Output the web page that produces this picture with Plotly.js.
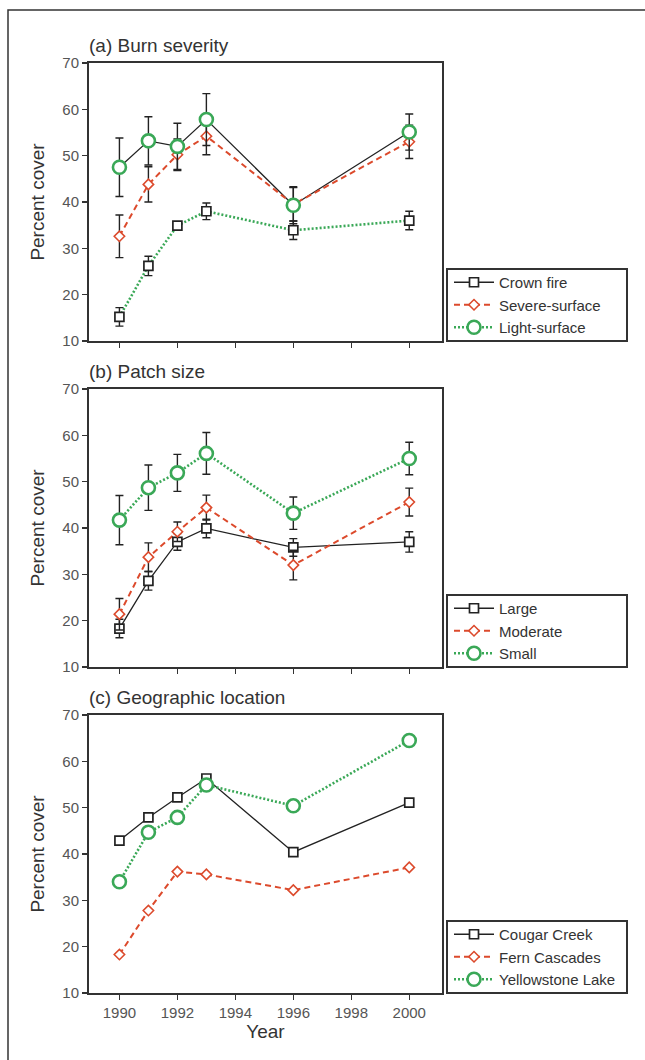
<!DOCTYPE html>
<html>
<head>
<meta charset="utf-8">
<script src="https://cdn.plot.ly/plotly-3.0.1.min.js"></script>
<style>
  html, body { margin: 0; padding: 0; background: #fff; }
  #chart { width: 645px; height: 1060px; }
</style>
</head>
<body>
<div id="chart"></div>
<script>
// ---------------- data ----------------
const years = [1990, 1991, 1992, 1993, 1996, 2000];

// (a) Burn severity
const crownFire      = [15.2, 26.2, 34.9, 38.0, 33.9, 36.0];
const crownFireErr   = [2.0, 2.1, 0.8, 1.8, 2.0, 2.0];
const severeSurface  = [32.6, 43.8, 50.2, 54.2, 39.5, 53.0];
const severeSurfErr  = [4.6, 3.8, 3.4, 4.0, 3.6, 3.6];
const lightSurface   = [47.5, 53.2, 52.0, 57.8, 39.3, 55.1];
const lightSurfErr   = [6.3, 5.2, 5.0, 5.6, 4.0, 3.9];

// (b) Patch size
const large          = [18.3, 28.6, 37.0, 39.9, 35.8, 37.0];
const largeErr       = [2.0, 2.0, 1.8, 2.0, 1.9, 2.2];
const moderate       = [21.4, 33.7, 39.2, 44.4, 32.0, 45.6];
const moderateErr    = [3.4, 3.1, 2.1, 2.7, 3.2, 3.0];
const small          = [41.7, 48.7, 51.9, 56.1, 43.2, 55.0];
const smallErr       = [5.3, 4.9, 4.0, 4.5, 3.5, 3.5];

// (c) Geographic location
const cougarCreek    = [42.9, 47.9, 52.2, 56.3, 40.4, 51.1];
const fernCascades   = [18.3, 27.8, 36.2, 35.6, 32.2, 37.1];
const yellowstone    = [34.0, 44.7, 47.9, 54.9, 50.4, 64.5];

const panelTitles = ['(a) Burn severity', '(b) Patch size', '(c) Geographic location'];
const legendNames = [
  ['Crown fire', 'Severe-surface', 'Light-surface'],
  ['Large', 'Moderate', 'Small'],
  ['Cougar Creek', 'Fern Cascades', 'Yellowstone Lake']
];

// ---------------- styles ----------------
const FONT = '"Liberation Sans", Arial, Helvetica, sans-serif';
const BLACK = '#222222', RED = '#dc4a2c', GREEN = '#3aa857';
const W = 645, H = 1060;
const styles = [
  { line: { color: BLACK, width: 1.3, dash: 'solid' },
    marker: { symbol: 'square', size: 9, color: '#fff', line: { width: 1.7, color: BLACK } } },
  { line: { color: RED, width: 2, dash: '6px,4px' },
    marker: { symbol: 'diamond', size: 8, color: '#fff', line: { width: 1.6, color: RED } } },
  { line: { color: GREEN, width: 2.6, dash: '2px,2px' },
    marker: { symbol: 'circle', size: 13, color: '#fff', line: { width: 2.6, color: GREEN } } }
];

// panel pixel boxes
const plotL = 89, plotR = 442;
const panels = [ { top: 63, bot: 341 }, { top: 389, bot: 667 }, { top: 715, bot: 993 } ];

// series per panel: marker data, error, line data (in panel (a) the source
// figure draws the solid line through the circles and the dotted line through the squares)
const panelSeries = [
  [ { y: crownFire, err: crownFireErr, lineY: lightSurface },
    { y: severeSurface, err: severeSurfErr, lineY: severeSurface },
    { y: lightSurface, err: lightSurfErr, lineY: crownFire } ],
  [ { y: large, err: largeErr, lineY: large },
    { y: moderate, err: moderateErr, lineY: moderate },
    { y: small, err: smallErr, lineY: small } ],
  [ { y: cougarCreek, err: null, lineY: cougarCreek },
    { y: fernCascades, err: null, lineY: fernCascades },
    { y: yellowstone, err: null, lineY: yellowstone } ]
];

const traces = [];
const layout = {
  width: W, height: H,
  margin: { l: 0, r: 0, t: 0, b: 0 },
  paper_bgcolor: '#fff', plot_bgcolor: '#fff',
  font: { family: FONT, color: '#333' },
  showlegend: true,
  annotations: [],
  shapes: []
};

panelSeries.forEach((series, p) => {
  const sfx = p === 0 ? '' : String(p + 1);
  const xa = 'x' + sfx, ya = 'y' + sfx;
  const leg = 'legend' + sfx;
  // lines
  series.forEach((s, i) => {
    traces.push({ type: 'scatter', mode: 'lines', x: years, y: s.lineY,
      xaxis: xa, yaxis: ya, line: styles[i].line, showlegend: false, hoverinfo: 'skip' });
  });
  // markers with error bars
  series.forEach((s, i) => {
    const t = { type: 'scatter', mode: 'markers', x: years, y: s.y,
      xaxis: xa, yaxis: ya, marker: styles[i].marker, showlegend: false };
    if (s.err) t.error_y = { type: 'data', array: s.err, visible: true, color: BLACK, thickness: 1.4, width: 4 };
    traces.push(t);
  });
  // legend entries
  series.forEach((s, i) => {
    traces.push({ type: 'scatter', mode: 'lines+markers', x: [null], y: [null],
      xaxis: xa, yaxis: ya, name: legendNames[p][i], legend: leg,
      line: styles[i].line, marker: styles[i].marker });
  });

  const dom = [1 - panels[p].bot / H, 1 - panels[p].top / H];
  layout['xaxis' + sfx] = {
    domain: [plotL / W, plotR / W], anchor: ya,
    range: [1988.95, 2001.13], tick0: 1990, dtick: 2,
    showline: true, mirror: true, linecolor: '#333', linewidth: 2,
    ticks: 'outside', ticklen: 5, tickwidth: 1.5, tickcolor: '#333',
    showgrid: false, zeroline: false,
    showticklabels: p === 2,
    tickfont: { family: FONT, size: 15, color: '#555' },
    title: p === 2 ? { text: 'Year', font: { family: FONT, size: 19, color: '#333' }, standoff: 4 } : undefined
  };
  layout['yaxis' + sfx] = {
    domain: dom, anchor: xa,
    range: [10, 70], dtick: 10,
    showline: true, mirror: true, linecolor: '#333', linewidth: 2,
    ticks: 'outside', ticklen: 5, tickwidth: 1.5, tickcolor: '#333',
    showgrid: false, zeroline: false,
    tickfont: { family: FONT, size: 15, color: '#555' },
    title: { text: 'Percent cover', font: { family: FONT, size: 19, color: '#333' }, standoff: 13 }
  };
  layout[leg] = {
    x: 449 / W, xanchor: 'left',
    y: 1 - (panels[p].bot - 75) / H, yanchor: 'top',
    bgcolor: 'rgba(0,0,0,0)', borderwidth: 0,
    font: { family: FONT, size: 15, color: '#333' },
    itemwidth: 40, tracegroupgap: 0
  };
  layout.shapes.push({ type: 'rect', xref: 'paper', yref: 'paper',
    x0: 447 / W, x1: 627 / W, y0: 1 - panels[p].bot / H, y1: 1 - (panels[p].bot - 72) / H,
    line: { color: '#333', width: 2 }, fillcolor: 'rgba(0,0,0,0)' });
  layout.annotations.push({ text: panelTitles[p], xref: 'paper', yref: 'paper',
    x: (plotL - 2) / W, xanchor: 'left', y: 1 - (panels[p].top - 18) / H, yanchor: 'middle',
    showarrow: false, font: { family: FONT, size: 19, color: '#333' } });
});

// outer frame
layout.shapes.push({ type: 'rect', xref: 'paper', yref: 'paper',
  x0: 8 / W, x1: 1.05, y0: -0.05, y1: 1 - 10 / H,
  line: { color: '#333', width: 1.5 }, fillcolor: 'rgba(0,0,0,0)' });

Plotly.newPlot('chart', traces, layout, { displayModeBar: false, staticPlot: true });
</script>
</body>
</html>
